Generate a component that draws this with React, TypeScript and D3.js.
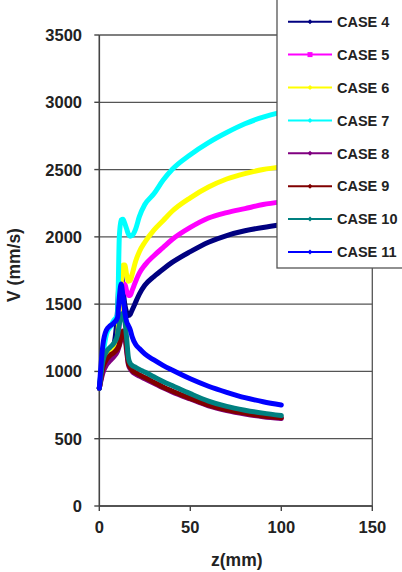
import React from "react";
import * as d3 from "d3";

// Sample positions along the channel (mm), shared by every case
const zPositions = [0, 2, 4, 6, 8, 10, 11, 12, 13, 14, 15, 16, 17, 18, 20, 22, 25, 30, 35, 40, 50, 60, 70, 80, 90, 100];

// Velocity (mm/s) per case at each position
const case4 = [875, 1030, 1100, 1150, 1200, 1450, 1700, 1730, 1620, 1500, 1440, 1415, 1425, 1455, 1515, 1575, 1640, 1705, 1760, 1810, 1890, 1960, 2010, 2045, 2070, 2090];
const case5 = [875, 1010, 1080, 1110, 1130, 1200, 1350, 1500, 1620, 1650, 1600, 1565, 1565, 1600, 1670, 1730, 1790, 1860, 1920, 1980, 2070, 2140, 2180, 2210, 2240, 2260];
const case6 = [875, 1020, 1100, 1140, 1160, 1250, 1450, 1650, 1790, 1790, 1720, 1670, 1675, 1720, 1820, 1890, 1960, 2050, 2120, 2190, 2290, 2370, 2430, 2470, 2500, 2520];
const case7 = [875, 1120, 1280, 1330, 1380, 1420, 2000, 2125, 2130, 2100, 2060, 2020, 2005, 2010, 2060, 2150, 2240, 2320, 2420, 2500, 2610, 2700, 2775, 2840, 2890, 2925];
const case8 = [875, 990, 1050, 1080, 1110, 1150, 1190, 1240, 1280, 1260, 1150, 1050, 1020, 1000, 980, 965, 945, 912, 878, 848, 795, 745, 710, 684, 664, 650];
const case9 = [875, 1030, 1090, 1120, 1140, 1170, 1200, 1260, 1300, 1290, 1180, 1060, 1030, 1010, 990, 975, 955, 920, 885, 855, 800, 750, 715, 690, 668, 655];
const case10 = [875, 1080, 1150, 1180, 1210, 1270, 1350, 1420, 1430, 1380, 1250, 1100, 1060, 1045, 1030, 1015, 995, 960, 925, 895, 835, 780, 740, 712, 690, 672];
const case11 = [875, 1200, 1310, 1340, 1360, 1400, 1550, 1650, 1560, 1440, 1370, 1340, 1310, 1260, 1200, 1170, 1130, 1085, 1045, 1010, 945, 890, 845, 805, 775, 750];

const seriesNames = ["CASE 4", "CASE 5", "CASE 6", "CASE 7", "CASE 8", "CASE 9", "CASE 10", "CASE 11"];
const seriesValues = [case4, case5, case6, case7, case8, case9, case10, case11];
const seriesColors = ["#000080", "#FF00FF", "#FFFF00", "#00FFFF", "#800080", "#800000", "#008080", "#0000FF"];

const xTicks = [0, 50, 100, 150];
const yTicks = [0, 500, 1000, 1500, 2000, 2500, 3000, 3500];

const W = 402;
const H = 572;
const plot = { left: 99.3, right: 372.3, top: 35, bottom: 506 };
const font = "Arial, 'Liberation Sans', sans-serif";

export default function App() {
  const x = d3.scaleLinear().domain([0, 150]).range([plot.left, plot.right]);
  const y = d3.scaleLinear().domain([0, 3500]).range([plot.bottom, plot.top]);

  const line = d3
    .line<number>()
    .x((_, i) => x(zPositions[i]))
    .y((v) => y(v))
    .curve(d3.curveMonotoneX);

  const legend = { left: 277, top: -2, bottom: 268, row0: 21.7, rowStep: 32.9, lineX0: 288, lineX1: 332, textX: 337 };

  return (
    <svg
      width={W}
      height={H}
      viewBox={`0 0 ${W} ${H}`}
      style={{ position: "absolute", left: 0, top: 0, background: "#fff" }}
      fontFamily={font}
    >
      <rect x={0} y={0} width={W} height={H} fill="#fff" />

      {/* horizontal gridlines */}
      {yTicks.map((t) => (
        <line key={`g${t}`} x1={plot.left} x2={plot.right} y1={y(t)} y2={y(t)} stroke="#555" strokeWidth={1.3} />
      ))}
      {/* right border of the plot area */}
      <line x1={plot.right} x2={plot.right} y1={plot.top} y2={plot.bottom} stroke="#555" strokeWidth={1.3} />

      {/* y axis */}
      <line x1={plot.left} x2={plot.left} y1={plot.top} y2={plot.bottom} stroke="#444" strokeWidth={1.6} />
      {yTicks.map((t) => (
        <g key={`yt${t}`}>
          <line x1={plot.left - 5} x2={plot.left} y1={y(t)} y2={y(t)} stroke="#444" strokeWidth={1.4} />
          <text x={82} y={y(t)} dy="0.36em" textAnchor="end" fontSize={16.5} fontWeight="bold" fill="#222">
            {t}
          </text>
        </g>
      ))}

      {/* x axis */}
      <line x1={plot.left} x2={plot.right} y1={plot.bottom} y2={plot.bottom} stroke="#444" strokeWidth={1.6} />
      {xTicks.map((t) => (
        <g key={`xt${t}`}>
          <line x1={x(t)} x2={x(t)} y1={plot.bottom} y2={plot.bottom + 5} stroke="#444" strokeWidth={1.4} />
          <text x={x(t)} y={533} textAnchor="middle" fontSize={16.5} fontWeight="bold" fill="#222">
            {t}
          </text>
        </g>
      ))}

      {/* axis titles */}
      <text x={(plot.left + plot.right) / 2 + 1} y={566} textAnchor="middle" fontSize={17.5} fontWeight="bold" fill="#222">
        z(mm)
      </text>
      <text transform="translate(20,265) rotate(-90)" textAnchor="middle" fontSize={17.5} fontWeight="bold" fill="#222">
        V (mm/s)
      </text>

      {/* series */}
      {seriesValues.map((vals, i) => (
        <path
          key={seriesNames[i]}
          d={line(vals) ?? ""}
          fill="none"
          stroke={seriesColors[i]}
          strokeWidth={5}
          strokeLinejoin="round"
          strokeLinecap="round"
        />
      ))}

      {/* legend */}
      <rect
        x={legend.left}
        y={legend.top}
        width={W - legend.left + 5}
        height={legend.bottom - legend.top}
        fill="#fff"
        stroke="#555"
        strokeWidth={1.3}
      />
      {seriesNames.map((name, i) => {
        const cy = legend.row0 + i * legend.rowStep;
        const mx = (legend.lineX0 + legend.lineX1) / 2;
        return (
          <g key={`lg${name}`}>
            <line x1={legend.lineX0} x2={legend.lineX1} y1={cy} y2={cy} stroke={seriesColors[i]} strokeWidth={2} />
            {i === 1 ? (
              <rect x={mx - 2.5} y={cy - 2.5} width={5} height={5} fill={seriesColors[i]} />
            ) : (
              <path d={`M${mx},${cy - 2.5}L${mx + 2.5},${cy}L${mx},${cy + 2.5}L${mx - 2.5},${cy}Z`} fill={seriesColors[i]} />
            )}
            <text x={legend.textX} y={cy} dy="0.36em" fontSize={14.5} fontWeight="bold" fill="#222">
              {name}
            </text>
          </g>
        );
      })}
    </svg>
  );
}
